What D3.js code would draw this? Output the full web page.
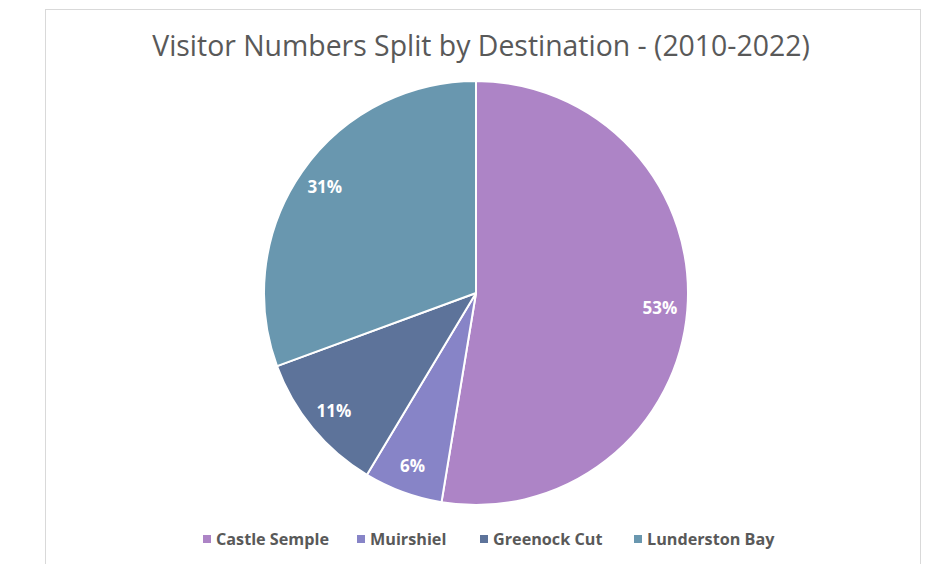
<!DOCTYPE html>
<html>
<head>
<meta charset="utf-8">
<script src="https://cdn.jsdelivr.net/npm/d3@7"></script>
<style>
  html, body { margin: 0; padding: 0; background: #fff; }
  svg { display: block; }
</style>
</head>
<body>
<svg id="chart" width="931" height="564"></svg>
<script>
// Share of visitors per destination, 2010-2022 (percent)
const destinations = ["Castle Semple", "Muirshiel", "Greenock Cut", "Lunderston Bay"];
const shares = [52.6, 6.0, 10.8, 30.6];
const colours = ["#ad84c6", "#8784c7", "#5d739a", "#6997af"];
const title = "Visitor Numbers Split by Destination - (2010-2022)";

const svg = d3.select("#chart");
const font = "'Open Sans', 'Liberation Sans', sans-serif";

// Chart frame
svg.append("rect")
  .attr("x", 45.5).attr("y", 9.5)
  .attr("width", 875).attr("height", 570)
  .attr("fill", "#fff")
  .attr("stroke", "#d9d9d9").attr("stroke-width", 1);

// Title
svg.append("text")
  .attr("x", 481).attr("y", 56)
  .attr("text-anchor", "middle")
  .attr("font-family", font)
  .attr("font-size", 28.4)
  .attr("fill", "#595959")
  .text(title);

// Pie
const cx = 476, cy = 293, radius = 212;
const data = destinations.map((name, i) => ({ name, value: shares[i], colour: colours[i] }));
const pie = d3.pie().value(d => d.value).sort(null);
const arcs = pie(data);
const total = d3.sum(shares);
const arc = d3.arc().innerRadius(0).outerRadius(radius);
const labelArc = d3.arc().innerRadius(radius * 0.87).outerRadius(radius * 0.87);

const g = svg.append("g").attr("transform", `translate(${cx},${cy})`);
g.selectAll("path.slice")
  .data(arcs)
  .join("path")
  .attr("class", "slice")
  .attr("d", arc)
  .attr("fill", d => d.data.colour)
  .attr("stroke", "#fff")
  .attr("stroke-width", 2)
  .attr("stroke-linejoin", "round");

g.selectAll("text.pct")
  .data(arcs)
  .join("text")
  .attr("class", "pct")
  .attr("transform", d => `translate(${labelArc.centroid(d)})`)
  .attr("text-anchor", "middle")
  .attr("dy", "0.35em")
  .attr("font-family", font)
  .attr("font-weight", "bold")
  .attr("font-size", 17)
  .attr("fill", "#fff")
  .text(d => Math.round(d.data.value / total * 100) + "%");

// Legend
const legend = svg.append("g").attr("font-family", font).attr("font-size", 16.2)
  .attr("font-weight", "bold").attr("fill", "#595959");
const legendX = [203, 357, 480, 634];
data.forEach((d, i) => {
  const item = legend.append("g").attr("transform", `translate(${legendX[i]},539)`);
  item.append("rect").attr("x", 0).attr("y", -4).attr("width", 8).attr("height", 8).attr("fill", d.colour);
  item.append("text").attr("x", 13).attr("y", 0).attr("dy", "0.35em").text(d.name);
});
</script>
</body>
</html>
